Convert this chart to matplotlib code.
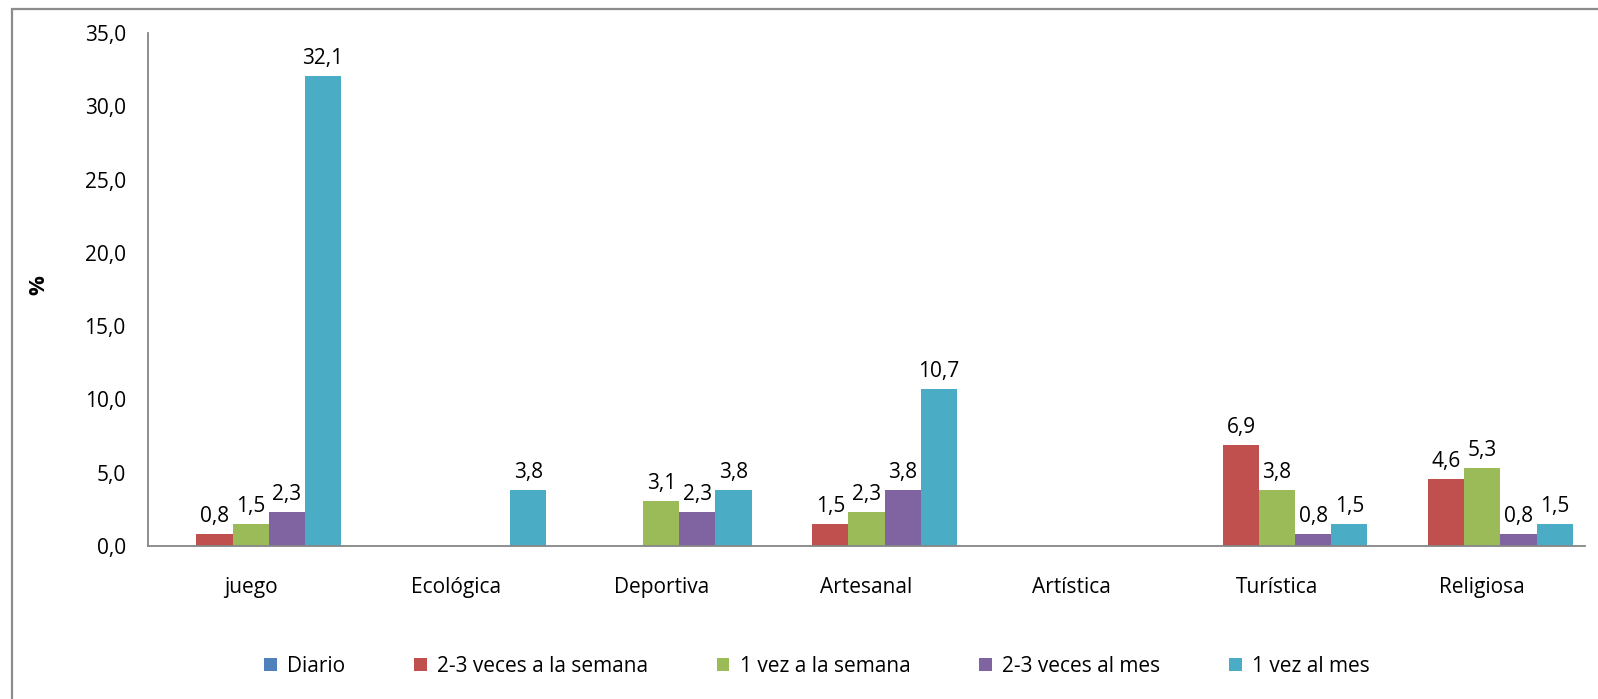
import numpy as np
import matplotlib
matplotlib.use("Agg")
import matplotlib.pyplot as plt
from matplotlib.patches import Rectangle

#Datos
categorias = ["juego", "Ecológica", "Deportiva", "Artesanal", "Artística", "Turística", "Religiosa"]
series = ["Diario", "2-3 veces a la semana", "1 vez a la semana", "2-3 veces al mes", "1 vez al mes"]
diario = [0, 0, 0, 0, 0, 0, 0]
veces_semana = [0.8, 0, 0, 1.5, 0, 6.9, 4.6]
vez_semana = [1.5, 0, 3.1, 2.3, 0, 3.8, 5.3]
veces_mes = [2.3, 0, 2.3, 3.8, 0, 0.8, 0.8]
vez_mes = [32.1, 3.8, 3.8, 10.7, 0, 1.5, 1.5]
colores = ["#4F81BD", "#C0504D", "#9BBB59", "#8064A2", "#4BACC6"]

valores = [diario, veces_semana, vez_semana, veces_mes, vez_mes]

plt.rcParams['font.family'] = ['Open Sans', 'DejaVu Sans']
fs = 15

fig = plt.figure(figsize=(15.98, 6.99), dpi=100)
ax = fig.add_axes([148/1598, 1-546/699, (1585-148)/1598, (546-33)/699])

#Marco exterior
fig.patches.append(Rectangle((12/1598, -0.1), 1.2, 1-9/699+0.1, transform=fig.transFigure,
                             fill=False, edgecolor="#8c8c8c", linewidth=1.6))

x = np.arange(len(categorias))
w = 0.176
for i, (nombre, vals) in enumerate(zip(series, valores)):
    pos = x + (i - 2) * w
    barras = ax.bar(pos, vals, width=w, color=colores[i], label=nombre)
    for b, v in zip(barras, vals):
        if v > 0:
            ax.annotate(f"{v:.1f}".replace(".", ","), (b.get_x() + w/2, v),
                        xytext=(0, 5), textcoords="offset points",
                        ha="center", va="bottom", fontsize=fs)

ax.set_xlim(-0.5, len(categorias) - 0.5)
ax.set_ylim(0, 35)
ax.set_yticks(np.arange(0, 36, 5))
ax.set_yticklabels([f"{t:.1f}".replace(".", ",") for t in np.arange(0, 36, 5)], fontsize=fs)
ax.set_xticks(x)
ax.set_xticklabels(categorias, fontsize=fs)
ax.tick_params(axis="y", length=0, pad=16)
ax.tick_params(axis="x", length=0, pad=22)
for s in ["top", "right"]:
    ax.spines[s].set_visible(False)
for s in ["left", "bottom"]:
    ax.spines[s].set_color("#868686")
    ax.spines[s].set_linewidth(1.3)

fig.text(39/1598, 1-285/699, "%", rotation=90, fontsize=fs + 1, fontweight="bold",
         ha="center", va="center")

ax.legend(loc="center", bbox_to_anchor=(817/1598, 1-666/699), bbox_transform=fig.transFigure,
          ncol=5, frameon=False, fontsize=fs, handlelength=0.6, handleheight=0.6,
          handletextpad=0.5, columnspacing=3.3)

fig.savefig("out.png", dpi=100)
